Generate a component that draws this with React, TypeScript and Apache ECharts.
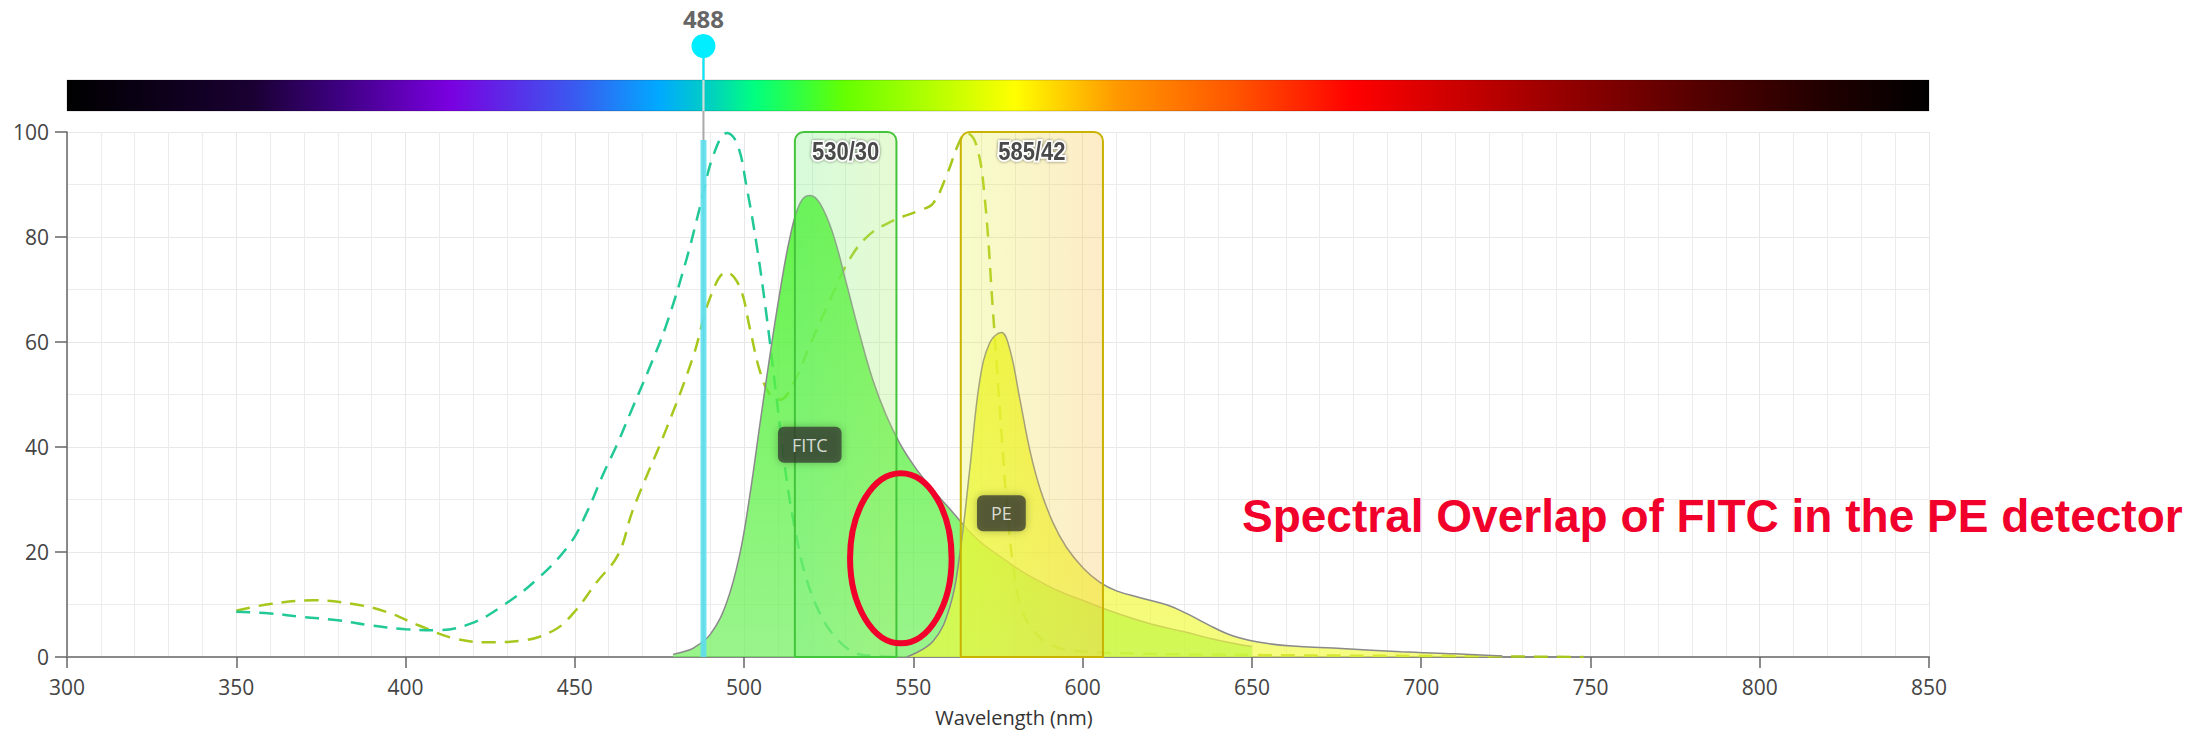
import React, { useEffect, useRef } from "react";
import * as echarts from "echarts";

// ---------- axes ----------
const xMin = 300;
const xMax = 850;
const xStep = 50;
const yMin = 0;
const yMax = 100;
const yStep = 20;
const xAxisName = "Wavelength (nm)";

// ---------- spectra [wavelength nm, normalized intensity] ----------
const fitcExcitation: [number, number][] = [
  [350, 8.6], [360, 8.3], [370, 7.6], [380, 7.0], [390, 6.0], [400, 5.3], [409, 5.1],
  [419, 6.3], [429, 9.9], [439, 14.9], [448.5, 21.5], [453.5, 27.5], [458.5, 35.0],
  [462.5, 40.5], [467, 47.4], [472, 55.0], [477, 63.2], [483, 75.8], [487, 85.8],
  [491, 95.7], [495, 99.8], [498, 97.7], [500.7, 89.7], [503.7, 78.5], [506.6, 65.2],
  [509.6, 49.3], [512.5, 34.1], [515.5, 22.8], [518.4, 14.9], [522.4, 8.3], [526.3, 4.3],
  [532, 1.0], [538, 0.2], [545, 0],
];

const peExcitation: [number, number][] = [
  [350, 8.8], [360, 10.1], [372.7, 10.8], [384.5, 10.1], [394.3, 8.6], [404, 6.0], [414, 3.6],
  [424, 2.8], [434, 3.1], [443.6, 5.0], [449.5, 8.3], [456.4, 14.2], [462.8, 19.5],
  [467.2, 28.1], [477, 43.4], [485, 57.3], [490, 68.5], [494.8, 73.3], [498.7, 70.5],
  [501.7, 62.6], [504.6, 54.6], [507.6, 50.0], [510.5, 49.0], [514.5, 52.0], [519.4, 59.3],
  [525.3, 67.9], [531.2, 75.8], [537.1, 80.5], [544, 83.1], [551.9, 85.1], [555.8, 86.4],
  [559.8, 91.7], [563.7, 98.3], [565.7, 99.8], [568.6, 97.5], [571, 88.0], [573.5, 66.0],
  [576, 43.0], [578, 26.0], [580, 15.0], [582, 9.0], [585, 5.5], [590, 2.5], [600, 1.0],
  [650, 0.4], [700, 0.2], [748, 0],
];

const fitcEmission: [number, number][] = [
  [479, 0.5], [481, 0.8], [485, 1.7], [490, 4.3], [494.8, 10.3], [498.7, 19.5], [501.7, 30.8],
  [504.6, 44.0], [507.6, 57.3], [510.5, 69.2], [513.5, 79.8], [516.5, 86.4], [519.4, 87.9],
  [522.4, 86.4], [526.3, 80.5], [530.2, 71.2], [534.2, 61.3], [538.1, 52.6], [542, 46.0],
  [546, 40.7], [550, 36.6], [554, 33.2], [558, 30.2], [562, 27.3], [566, 24.3], [570, 21.8],
  [576, 19.0], [582, 16.3], [589, 13.8], [595, 12.0], [600, 10.8], [608, 8.8], [615, 7.3],
  [622, 6.0], [630, 4.8], [640, 3.2], [650, 2.0],
];

const peEmission: [number, number][] = [
  [548, 0], [555.8, 3.0], [560.8, 9.6], [563.7, 19.5], [566.7, 36.0], [569.6, 52.6],
  [572.6, 59.9], [576, 61.8], [578.5, 58.6], [581.4, 49.3], [584.4, 39.4], [587.4, 32.1],
  [591.3, 25.5], [595.2, 20.9], [600.2, 16.9], [605.1, 14.2], [610, 12.6], [617, 11.3],
  [625, 9.9], [630.7, 8.3], [636.6, 6.3], [644.5, 4.0], [654.3, 2.6], [664.2, 2.0],
  [674, 1.7], [694, 1.0], [710, 0.6], [724, 0.2],
];

// ---------- instrument ----------
const fluorNames = ["FITC", "PE"];
const filterNames = ["530/30", "585/42"];
const filterCenters = [530, 585];
const filterWidths = [30, 42];
const laserLines = [488];
const overlapMarker = [546.3, 18.8];

// visible spectrum colour stops [nm, colour]
const spectrumStops: [number, string][] = [
  [300, "#000000"], [355, "#1a0033"], [380, "#3d0080"], [413, "#7a00e0"], [450, "#3a5af0"],
  [475, "#00aaff"], [490, "#00d0c0"], [503, "#00ff80"], [530, "#66ff00"], [580, "#ffff00"],
  [610, "#ff9900"], [645, "#ff5500"], [680, "#ff0000"], [710, "#cc0000"], [750, "#880000"],
  [785, "#500000"], [820, "#200000"], [850, "#000000"],
];

const annotationText = "Spectral Overlap of FITC in the PE detector";

const filterStyles = [
  { from: "rgba(120,240,130,0.30)", to: "rgba(170,240,110,0.30)", stroke: "#44c43a" },
  { from: "rgba(225,245,60,0.28)", to: "rgba(250,190,70,0.30)", stroke: "#c9b200" },
];

const tickFont = '"Open Sans", "Noto Sans", sans-serif';

function peakOf(arr: [number, number][]): [number, number] {
  let best = arr[0];
  for (const p of arr) if (p[1] > best[1]) best = p;
  return best;
}

export default function App() {
  const ref = useRef<HTMLDivElement>(null);

  useEffect(() => {
    if (!ref.current) return;
    const chart = echarts.init(ref.current, null, { renderer: "svg" });

    const emissions = [fitcEmission, peEmission];
    const labelData = emissions.map((arr, i) => {
      const pk = peakOf(arr);
      return { name: fluorNames[i], value: [pk[0], pk[1] / 2] };
    });

    const spectrumGradient = new echarts.graphic.LinearGradient(
      0, 0, 1, 0,
      spectrumStops.map(([nm, c]) => ({ offset: (nm - xMin) / (xMax - xMin), color: c }))
    );

    const option: any = {
      animation: false,
      backgroundColor: "#ffffff",
      grid: { left: 67, right: 271, top: 132, bottom: 77 },
      xAxis: {
        type: "value",
        min: xMin,
        max: xMax,
        interval: xStep,
        name: xAxisName,
        nameLocation: "middle",
        nameGap: 50,
        nameTextStyle: { fontSize: 20, color: "#333", fontFamily: tickFont, padding: [0, 0, 0, 32] },
        axisLine: { show: true, lineStyle: { color: "#8a8a8a", width: 2 } },
        axisTick: { show: true, length: 11, lineStyle: { color: "#666", width: 1.5 } },
        axisLabel: { fontSize: 21, color: "#444", margin: 19, fontFamily: tickFont },
        splitLine: { show: true, lineStyle: { color: "#e8e8e8", width: 1 } },
        minorTick: { show: false, splitNumber: 5 },
        minorSplitLine: { show: true, lineStyle: { color: "#ececec", width: 1 } },
      },
      yAxis: {
        type: "value",
        min: yMin,
        max: yMax,
        interval: yStep,
        axisLine: { show: true, lineStyle: { color: "#666", width: 1.5 } },
        axisTick: { show: true, length: 12, lineStyle: { color: "#666", width: 1.5 } },
        axisLabel: { fontSize: 21, color: "#444", margin: 18, fontFamily: tickFont },
        splitLine: { show: true, lineStyle: { color: "#e8e8e8", width: 1 } },
        minorTick: { show: false, splitNumber: 2 },
        minorSplitLine: { show: true, lineStyle: { color: "#ececec", width: 1 } },
      },
      graphic: [
        {
          type: "text",
          left: 1242,
          top: 493,
          z: 100,
          style: {
            text: annotationText,
            font: 'bold 46px "Liberation Sans", Arial, sans-serif',
            fill: "#f0002a",
          },
        },
      ],
      series: [
        // spectrum bar above the plot
        {
          type: "custom",
          clip: false,
          z: 1,
          silent: true,
          data: [[xMin, xMax]],
          renderItem: (params: any, api: any) => {
            const a = api.coord([api.value(0), yMax]);
            const b = api.coord([api.value(1), yMax]);
            return {
              type: "rect",
              shape: { x: a[0], y: a[1] - 52, width: b[0] - a[0], height: 31 },
              style: { fill: spectrumGradient, stroke: "rgba(0,0,0,0.18)", lineWidth: 1 },
            };
          },
        },
        // excitation curves (dashed)
        {
          type: "line",
          name: "PE Ex",
          data: peExcitation,
          smooth: 0.4,
          showSymbol: false,
          z: 2,
          lineStyle: { color: "#a6c81e", width: 2.5, type: [14, 9] },
        },
        {
          type: "line",
          name: "FITC Ex",
          data: fitcExcitation,
          smooth: 0.4,
          showSymbol: false,
          z: 2,
          lineStyle: { color: "#22c997", width: 2.5, type: [14, 9] },
        },
        // emission curves (filled)
        {
          type: "line",
          name: "FITC Em",
          data: fitcEmission,
          smooth: 0.4,
          showSymbol: false,
          z: 3,
          lineStyle: { color: "#8a8a8a", width: 1.5 },
          areaStyle: {
            color: new echarts.graphic.LinearGradient(0, 0, 0, 1, [
              { offset: 0, color: "rgba(76,242,48,0.88)" },
              { offset: 1, color: "rgba(110,240,90,0.70)" },
            ]),
            opacity: 1,
          },
        },
        {
          type: "line",
          name: "PE Em",
          data: peEmission,
          smooth: 0.4,
          showSymbol: false,
          z: 4,
          lineStyle: { color: "#8a8a8a", width: 1.5 },
          areaStyle: {
            color: new echarts.graphic.LinearGradient(0, 0, 0, 1, [
              { offset: 0, color: "rgba(240,248,40,0.85)" },
              { offset: 1, color: "rgba(240,250,60,0.65)" },
            ]),
            opacity: 1,
          },
        },
        // band-pass filters
        {
          type: "custom",
          clip: false,
          z: 5,
          silent: true,
          data: filterCenters.map((c, i) => [c, filterWidths[i]]),
          renderItem: (params: any, api: any) => {
            const c = api.value(0);
            const w = api.value(1);
            const i = params.dataIndex;
            const tl = api.coord([c - w / 2, yMax]);
            const br = api.coord([c + w / 2, yMin]);
            const st = filterStyles[i];
            return {
              type: "group",
              children: [
                {
                  type: "rect",
                  shape: { x: tl[0], y: tl[1], width: br[0] - tl[0], height: br[1] - tl[1], r: [9, 9, 0, 0] },
                  style: {
                    fill: new echarts.graphic.LinearGradient(0, 0, 1, 0, [
                      { offset: 0, color: st.from },
                      { offset: 1, color: st.to },
                    ]),
                    stroke: st.stroke,
                    lineWidth: 2,
                  },
                },
                {
                  type: "text",
                  x: (tl[0] + br[0]) / 2,
                  y: tl[1] + 20,
                  scaleX: 0.88,
                  style: {
                    text: filterNames[i],
                    font: 'bold 25px "Liberation Sans", Arial, sans-serif',
                    fill: "#4a4a4a",
                    stroke: "#ffffff",
                    lineWidth: 3.5,
                    align: "center",
                    textAlign: "center",
                    verticalAlign: "middle",
                    textVerticalAlign: "middle",
                    textShadowColor: "rgba(0,0,0,0.55)",
                    textShadowBlur: 3,
                  },
                },
              ],
            };
          },
        },
        // fluorochrome labels
        {
          type: "scatter",
          z: 8,
          silent: true,
          symbolSize: 1,
          itemStyle: { color: "rgba(0,0,0,0)" },
          data: labelData,
          label: {
            show: true,
            position: "bottom",
            distance: 0,
            formatter: (p: any) => p.name,
            color: "#ffffff",
            fontSize: 18,
            fontFamily: tickFont,
            backgroundColor: "rgba(50,54,46,0.93)",
            padding: [9, 14, 9, 14],
            borderRadius: 6,
            shadowColor: "rgba(0,0,0,0.35)",
            shadowBlur: 8,
          },
        },
        // laser line
        {
          type: "custom",
          clip: false,
          z: 9,
          silent: true,
          data: laserLines.map((l) => [l, 0]),
          renderItem: (params: any, api: any) => {
            const nm = api.value(0);
            const base = api.coord([nm, yMin]);
            const top = api.coord([nm, yMax]);
            const barTop = api.coord([nm, 98.5]);
            const x = base[0];
            const cy = top[1] - 86;
            return {
              type: "group",
              children: [
                { type: "line", shape: { x1: x, y1: cy, x2: x, y2: base[1] }, style: { stroke: "#aaaaaa", lineWidth: 2 } },
                { type: "line", shape: { x1: x, y1: cy, x2: x, y2: top[1] - 52 }, style: { stroke: "#00eeff", lineWidth: 2 } },
                { type: "line", shape: { x1: x, y1: top[1] - 52, x2: x, y2: top[1] - 21 }, style: { stroke: "rgba(200,240,235,0.85)", lineWidth: 2 } },
                { type: "rect", shape: { x: x - 3, y: barTop[1], width: 6, height: base[1] - barTop[1] }, style: { fill: "rgba(90,224,238,0.88)" } },
                { type: "circle", shape: { cx: x, cy, r: 12 }, style: { fill: "#00eeff" } },
                {
                  type: "text",
                  x,
                  y: top[1] - 114,
                  style: {
                    text: String(nm),
                    font: "bold 24px " + tickFont,
                    fill: "#666666",
                    align: "center",
                    textAlign: "center",
                    verticalAlign: "middle",
                    textVerticalAlign: "middle",
                  },
                },
              ],
            };
          },
        },
        // overlap marker
        {
          type: "custom",
          clip: false,
          z: 10,
          silent: true,
          data: [overlapMarker],
          renderItem: (params: any, api: any) => {
            const c = api.coord([api.value(0), api.value(1)]);
            const s = api.size([15, 16.2]);
            return {
              type: "ellipse",
              shape: { cx: c[0], cy: c[1], rx: s[0], ry: s[1] },
              style: { fill: "none", stroke: "#f0002a", lineWidth: 6 },
            };
          },
        },
      ],
    };

    chart.setOption(option);
    return () => chart.dispose();
  }, []);

  return (
    <div
      ref={ref}
      style={{ position: "absolute", left: 0, top: 0, width: 2200, height: 734 }}
    />
  );
}
